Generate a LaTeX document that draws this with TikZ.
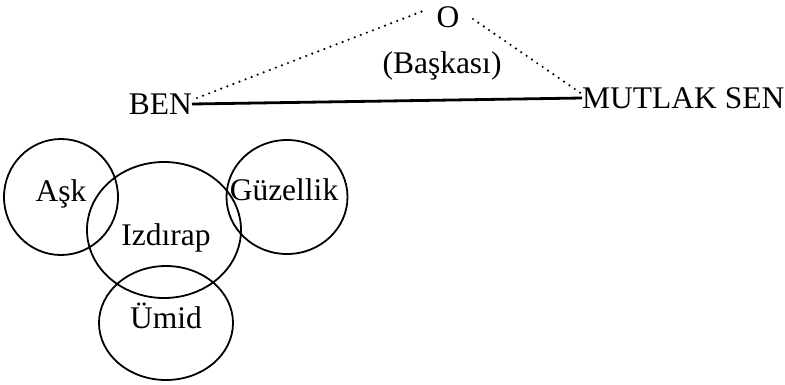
\documentclass[tikz,border=0pt]{standalone}
\usepackage{fontspec}
\setmainfont{Liberation Serif}
\usetikzlibrary{shapes.geometric}
\begin{document}
\begin{tikzpicture}[x=1pt,y=-1pt,
  lbl/.style={inner sep=0pt,font=\fontsize{31.5}{36}\selectfont},
  ring/.style={draw,ellipse,line width=1.8pt,inner sep=0pt},
  dots/.style={line width=2.4pt,line cap=round,dash pattern=on 0pt off 6.5pt}]
\useasboundingbox (0,0) rectangle (785,384);
% top triangle
\node[lbl,anchor=east] (ben) at (192,104) {BEN};
\node[lbl,anchor=west] (sen) at (582,98) {MUTLAK SEN};
\node[lbl] (o) at (448,17) {O};
\node[lbl] (bask) at (442,66) {(Başkası)};
\coordinate (bd) at (197,98);
\coordinate (ol) at (423,11);
\coordinate (or) at (473,19);
\coordinate (sd) at (582,94);
\draw[line width=2.8pt] (ben.east) -- (sen.west);
\draw[dots] (bd) -- (ol);
\draw[dots] (or) -- (sd);
% circles
\node[ring,minimum width=114pt,minimum height=116pt] (ask) at (61,197) {};
\node[ring,minimum width=154pt,minimum height=136pt] (izd) at (164,230) {};
\node[ring,minimum width=121pt,minimum height=114pt] (guz) at (287,197) {};
\node[ring,minimum width=134pt,minimum height=114pt] (umid) at (166,323) {};
\node[lbl] (taskk) at (61,194) {Aşk};
\node[lbl] (tguz) at (284,190) {Güzellik};
\node[lbl] (tizd) at (166,238) {Izdırap};
\node[lbl] (tumid) at (166,316) {Ümid};
\end{tikzpicture}
\end{document}
